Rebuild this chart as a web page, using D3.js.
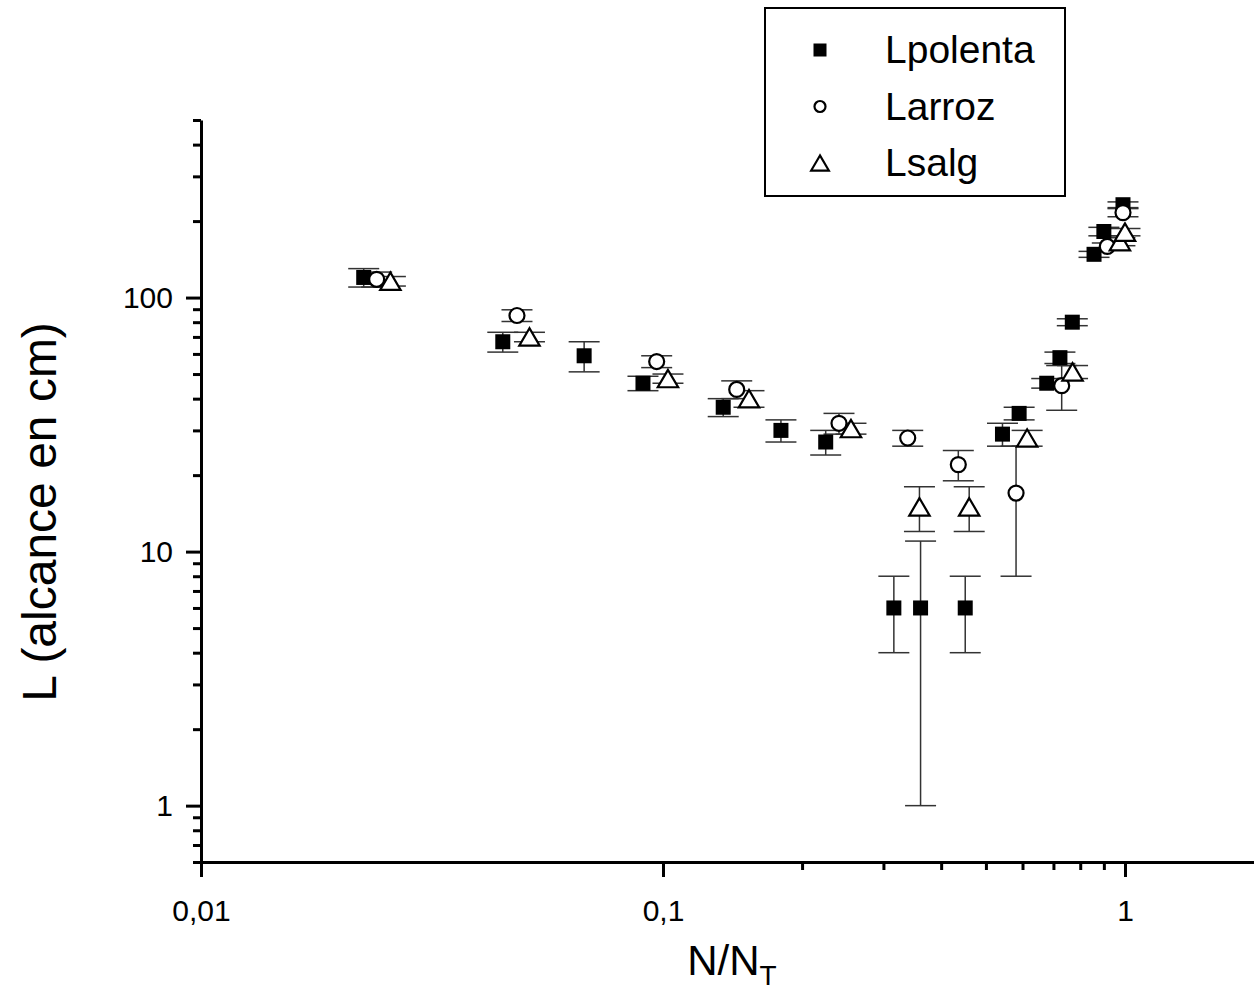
<!DOCTYPE html>
<html>

<head>
    <meta charset=utf-8 />
    <title>L vs N/NT</title>
    <script src="https://cdn.jsdelivr.net/npm/d3@7"></script>
    <style>
        html,
        body {
            margin: 0;
            padding: 0;
            background: #fff;
        }

        text {
            font-family: Arial, "Liberation Sans", sans-serif;
        }

        .axis path,
        .axis line {
            stroke: #000;
            stroke-width: 3;
        }
    </style>
</head>

<body>
    <div id="svg-canvas"></div>
    <script>
        // Lpolenta (filled squares)
        var polentaX = [0.0225, 0.045, 0.0675, 0.0905, 0.135, 0.18, 0.225, 0.316, 0.361, 0.451, 0.543, 0.59, 0.677, 0.723, 0.769, 0.857, 0.90, 0.99];
        var polentaY = [120, 67, 59, 46, 37, 30, 27, 6, 6, 6, 29, 35, 46, 58, 80, 148, 182, 232];
        var polentaErr = [10, 6, 8, 3, 3, 3, 3, 2, 5, 2, 3, 2, 2, 3, 2.5, 4, 7, 6];

        // Larroz (open circles)
        var arrozX = [0.024, 0.0483, 0.0969, 0.1444, 0.2404, 0.3386, 0.4357, 0.581, 0.7294, 0.9156, 0.99];
        var arrozY = [118, 85, 56, 43.5, 32, 28, 22, 17, 45, 159, 216];
        var arrozErr = [8, 4.5, 3, 3.5, 3, 2, 3, 9, 9, 5, 8];

        // Lsalg (open triangles)
        var salgX = [0.0257, 0.0514, 0.1025, 0.1535, 0.2552, 0.359, 0.46, 0.614, 0.77, 0.975, 1.0];
        var salgY = [116, 70, 48, 40, 30.5, 15, 15, 28, 51, 166, 181];
        var salgErr = [5, 3, 2, 3, 1.5, 3, 3, 2, 3, 6, 6];

        var seriesNames = ['Lpolenta', 'Larroz', 'Lsalg'];
        var xMajor = [0.01, 0.1, 1];
        var yMajor = [1, 10, 100];
    </script>
    <script>
        var W = 1254, H = 991;
        var left = 201, right = 1254, top_ = 120, bottom = 862;

        var svg = d3.select('#svg-canvas').append('svg')
            .attr('width', W)
            .attr('height', H);

        var xMax = Math.pow(10, (right - left) / 462 - 2);
        var x = d3.scaleLog().domain([0.01, xMax]).range([left, right]);
        var y = d3.scaleLog().domain([0.6, 500]).range([bottom, top_]);

        function minors(lo, hi) {
            var out = [];
            for (var d = 0.1; d <= 1000; d *= 10) {
                for (var k = 2; k <= 9; k++) {
                    var v = +(k * d).toPrecision(3);
                    if (v >= lo && v <= hi) out.push(v);
                }
            }
            return out;
        }

        var fmt = function (d) { return String(d).replace('.', ','); };

        // minor ticks
        svg.append('g')
            .attr('class', 'axis')
            .attr('transform', 'translate(0,' + bottom + ')')
            .call(d3.axisBottom(x).tickValues(minors(0.01, xMax)).tickSize(8).tickSizeOuter(0).tickFormat(''))
            .select('.domain').remove();
        svg.append('g')
            .attr('class', 'axis')
            .attr('transform', 'translate(' + left + ',0)')
            .call(d3.axisLeft(y).tickValues(minors(0.6, 500)).tickSize(8).tickSizeOuter(0).tickFormat(''))
            .select('.domain').remove();

        // major ticks + axis lines
        svg.append('g')
            .attr('class', 'axis')
            .attr('transform', 'translate(0,' + bottom + ')')
            .call(d3.axisBottom(x).tickValues(xMajor).tickSize(15).tickSizeOuter(0).tickPadding(23).tickFormat(fmt));
        svg.append('g')
            .attr('class', 'axis')
            .attr('transform', 'translate(' + left + ',0)')
            .call(d3.axisLeft(y).tickValues(yMajor).tickSize(15).tickSizeOuter(0).tickPadding(13).tickFormat(fmt));

        svg.selectAll('.axis text')
            .attr('font-size', 30)
            .attr('fill', '#000');

        // axis titles
        var xt = svg.append('text')
            .attr('x', 732)
            .attr('y', 975)
            .attr('text-anchor', 'middle')
            .attr('font-size', 42)
            .text('N/N');
        xt.append('tspan')
            .attr('font-size', 28)
            .attr('dy', 10)
            .text('T');

        svg.append('text')
            .attr('transform', 'translate(56,512) rotate(-90)')
            .attr('text-anchor', 'middle')
            .attr('font-size', 48)
            .text('L (alcance en cm)');

        // data
        function pack(xs, ys, es) {
            return xs.map(function (v, i) { return { x: v, y: ys[i], e: es[i] }; });
        }
        var series = [
            { name: seriesNames[0], kind: 'square', data: pack(polentaX, polentaY, polentaErr) },
            { name: seriesNames[1], kind: 'circle', data: pack(arrozX, arrozY, arrozErr) },
            { name: seriesNames[2], kind: 'triangle', data: pack(salgX, salgY, salgErr) }
        ];

        var cap = 15.5;
        var errG = svg.append('g')
            .attr('stroke', '#333')
            .attr('stroke-width', 1.5)
            .attr('fill', 'none');
        series.forEach(function (s) {
            var g = errG.selectAll(null).data(s.data).enter().append('g');
            g.append('line')
                .attr('x1', d => x(d.x)).attr('x2', d => x(d.x))
                .attr('y1', d => y(d.y - d.e)).attr('y2', d => y(d.y + d.e));
            g.append('line')
                .attr('x1', d => x(d.x) - cap).attr('x2', d => x(d.x) + cap)
                .attr('y1', d => y(d.y + d.e)).attr('y2', d => y(d.y + d.e));
            g.append('line')
                .attr('x1', d => x(d.x) - cap).attr('x2', d => x(d.x) + cap)
                .attr('y1', d => y(d.y - d.e)).attr('y2', d => y(d.y - d.e));
        });

        function marker(sel, kind, s, big) {
            if (kind === 'square') {
                sel.append('rect')
                    .attr('x', -s / 2).attr('y', -s / 2)
                    .attr('width', s).attr('height', s)
                    .attr('fill', '#000');
            } else if (kind === 'circle') {
                sel.append('circle')
                    .attr('r', big ? s / 2 : s / 2 - 1)
                    .attr('fill', '#fff')
                    .attr('stroke', '#000')
                    .attr('stroke-width', 2.2);
            } else {
                var w = s * 1.36 / 2, h = s * 1.16 / 2;
                sel.append('path')
                    .attr('d', 'M0,' + (-h) + 'L' + (-w) + ',' + h + 'L' + w + ',' + h + 'Z')
                    .attr('fill', '#fff')
                    .attr('stroke', '#000')
                    .attr('stroke-width', 2.2)
                    .attr('stroke-linejoin', 'miter');
            }
        }

        series.forEach(function (s) {
            svg.append('g').selectAll(null).data(s.data).enter().append('g')
                .attr('transform', d => 'translate(' + x(d.x) + ',' + y(d.y) + ')')
                .each(function () { marker(d3.select(this), s.kind, 15, true); });
        });

        // legend
        var lg = svg.append('g');
        lg.append('rect')
            .attr('x', 765).attr('y', 8)
            .attr('width', 300).attr('height', 188)
            .attr('fill', '#fff')
            .attr('stroke', '#000')
            .attr('stroke-width', 2);
        series.forEach(function (s, i) {
            var cy = 50 + i * 56.5;
            var m = lg.append('g').attr('transform', 'translate(820,' + cy + ')');
            marker(m, s.kind, 13, false);
            lg.append('text')
                .attr('x', 885)
                .attr('y', cy + 13)
                .attr('font-size', 39)
                .text(s.name);
        });
    </script>
</body>

</html>
